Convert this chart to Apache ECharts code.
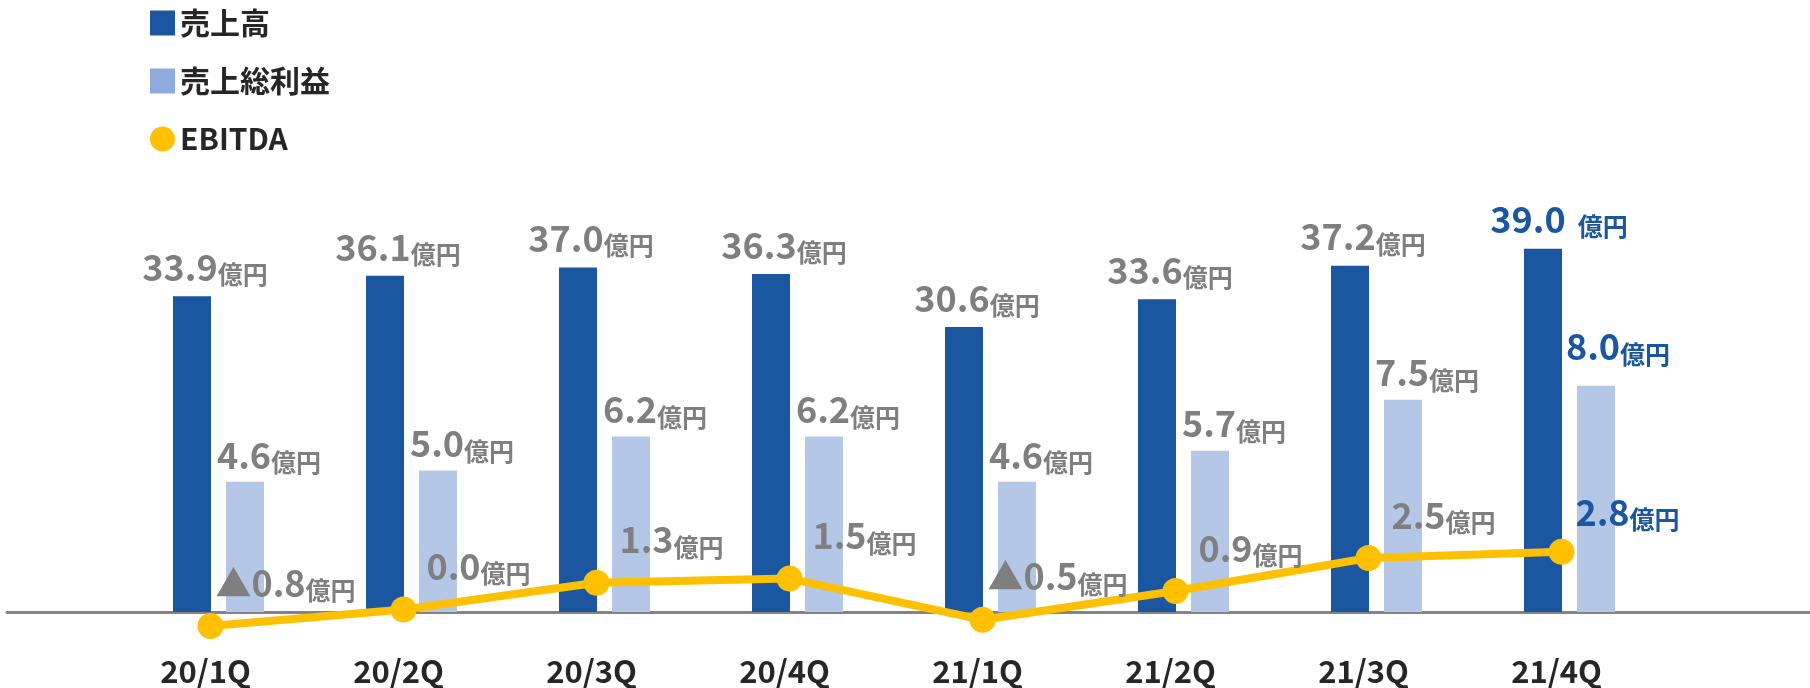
<!DOCTYPE html>
<html>
<head>
<meta charset="utf-8">
<script src="https://cdn.jsdelivr.net/npm/echarts@6/dist/echarts.min.js"></script>
<style>
  html, body { margin: 0; padding: 0; background: #fff; }
  #chart { width: 1810px; height: 688px; }
</style>
</head>
<body>
<div id="chart"></div>
<script>
// Quarterly results (unit: 億円)
const categories = ['20/1Q', '20/2Q', '20/3Q', '20/4Q', '21/1Q', '21/2Q', '21/3Q', '21/4Q'];
const sales = [33.9, 36.1, 37.0, 36.3, 30.6, 33.6, 37.2, 39.0];
const grossProfit = [4.6, 5.0, 6.2, 6.2, 4.6, 5.7, 7.5, 8.0];
const ebitda = [-0.8, 0.0, 1.3, 1.5, -0.5, 0.9, 2.5, 2.8];
const seriesNames = ['売上高', '売上総利益', 'EBITDA'];
const unit = '億円';

const FONT = '"Noto Sans CJK JP", "Noto Sans", sans-serif';
const DARK_BLUE = '#1B56A0';
const LIGHT_BLUE = '#B4C7E7';
const LEGEND_LIGHT = '#8FAADC';
const YELLOW = '#FFC000';
const GRAY = '#7F7F7F';
const TEXT = '#262626';
const latest = categories.length - 1;

// Number + unit label; the latest quarter is emphasised in blue, negatives use ▲
function valueLabel(spaced) {
  return function (p) {
    const v = p.value;
    const txt = (v < 0 ? '▲' : '') + Math.abs(v).toFixed(1);
    if (p.dataIndex === latest) {
      return '{nb|' + txt + '}{' + (spaced ? 'ubs' : 'ub') + '|' + unit + '}';
    }
    return '{n|' + txt + '}{u|' + unit + '}';
  };
}

const rich = {
  n:   { fontFamily: FONT, fontSize: 36, fontWeight: 'bold', color: GRAY, lineHeight: 40 },
  u:   { fontFamily: FONT, fontSize: 25, fontWeight: 'bold', color: GRAY, lineHeight: 30, verticalAlign: 'bottom' },
  nb:  { fontFamily: FONT, fontSize: 36, fontWeight: 'bold', color: DARK_BLUE, lineHeight: 40 },
  ub:  { fontFamily: FONT, fontSize: 25, fontWeight: 'bold', color: DARK_BLUE, lineHeight: 30, verticalAlign: 'bottom' },
  ubs: { fontFamily: FONT, fontSize: 25, fontWeight: 'bold', color: DARK_BLUE, lineHeight: 30, verticalAlign: 'bottom', padding: [0, 0, 0, 12] }
};

// Build data items so the latest quarter's label can sit on its own spot
function withLatestLabel(values, labelPatch) {
  return values.map(function (v, i) {
    return i === latest ? { value: v, label: labelPatch } : v;
  });
}

const chart = echarts.init(document.getElementById('chart'), null, { renderer: 'canvas' });

chart.setOption({
  animation: false,
  backgroundColor: '#fff',
  textStyle: { fontFamily: FONT },
  legend: {
    orient: 'vertical',
    left: 145,
    top: 2,
    itemWidth: 25,
    itemHeight: 25,
    itemGap: 26,
    selectedMode: false,
    textStyle: { fontFamily: FONT, fontSize: 30, fontWeight: 'bold', color: TEXT, lineHeight: 32 },
    data: [
      { name: seriesNames[0], icon: 'rect', itemStyle: { color: DARK_BLUE } },
      { name: seriesNames[1], icon: 'rect', itemStyle: { color: LEGEND_LIGHT } },
      { name: seriesNames[2], icon: 'circle', itemStyle: { color: YELLOW } }
    ]
  },
  grid: [
    { left: 122, right: 144, top: 193, bottom: 76 },      // bars
    { left: 114, right: 152, top: 527.1, bottom: 57.9 },  // EBITDA line + category labels
    { left: 7, right: 0, top: 500, bottom: 76 }           // baseline rule
  ],
  xAxis: [
    { gridIndex: 0, type: 'category', data: categories, show: false },
    {
      gridIndex: 1, type: 'category', data: categories,
      axisLine: { show: false, onZero: false }, axisTick: { show: false },
      axisLabel: {
        margin: 26, fontFamily: FONT, fontSize: 31, fontWeight: 'bold', color: TEXT,
        padding: [0, 10, 0, 0]
      }
    },
    {
      gridIndex: 2, type: 'category', data: [''],
      axisLine: { show: true, onZero: false, lineStyle: { color: '#848484', width: 3 } },
      axisTick: { show: false }, axisLabel: { show: false }
    }
  ],
  yAxis: [
    { gridIndex: 0, type: 'value', min: 0, max: 45, show: false },
    { gridIndex: 0, type: 'value', min: 0, max: 14.81, show: false },
    { gridIndex: 1, type: 'value', min: -1, max: 4, show: false },
    { gridIndex: 2, type: 'value', min: 0, max: 1, show: false }
  ],
  series: [
    {
      name: seriesNames[0], type: 'bar', xAxisIndex: 0, yAxisIndex: 0,
      data: withLatestLabel(sales, { offset: [16, -1] }),
      barWidth: 38, barGap: '39.5%',
      itemStyle: { color: DARK_BLUE },
      label: {
        show: true, position: 'top', distance: 9, offset: [13, 0],
        formatter: valueLabel(true), rich: rich
      }
    },
    {
      name: seriesNames[1], type: 'bar', xAxisIndex: 0, yAxisIndex: 1,
      data: withLatestLabel(grossProfit, { offset: [22, -12] }),
      barWidth: 38,
      itemStyle: { color: LIGHT_BLUE },
      label: {
        show: true, position: 'top', distance: 7, offset: [24, 0],
        formatter: valueLabel(false), rich: rich
      }
    },
    {
      name: seriesNames[2], type: 'line', xAxisIndex: 1, yAxisIndex: 2,
      data: withLatestLabel(ebitda, { offset: [66, -40] }),
      clip: false, z: 5,
      symbol: 'circle', symbolSize: 26,
      lineStyle: { color: YELLOW, width: 8 },
      itemStyle: { color: YELLOW },
      label: {
        show: true, position: 'inside', offset: [75, -43],
        formatter: valueLabel(false), rich: rich
      }
    }
  ]
});
</script>
</body>
</html>
